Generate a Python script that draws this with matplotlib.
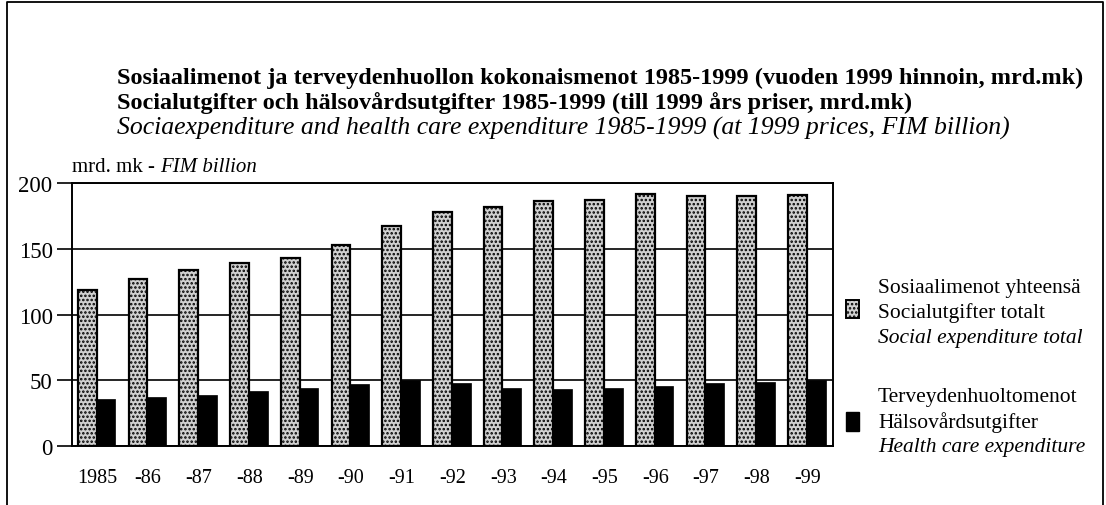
import matplotlib.pyplot as plt
from matplotlib.patches import Rectangle

# Values (FIM billion, 1999 prices)
years = ["1985", "-86", "-87", "-88", "-89", "-90", "-91", "-92", "-93", "-94", "-95", "-96", "-97", "-98", "-99"]
social_total = [119, 127, 134, 139, 143, 153, 167, 178, 182, 186, 187, 192, 190, 190, 191]
health_care = [36, 37, 39, 42, 44, 47, 50, 48, 44, 43, 44, 46, 48, 49, 50]
y_ticks = [0, 50, 100, 150, 200]

title_fi = "Sosiaalimenot ja terveydenhuollon kokonaismenot 1985-1999 (vuoden 1999 hinnoin, mrd.mk)"
title_sv = "Socialutgifter och hälsovårdsutgifter 1985-1999 (till 1999 års priser, mrd.mk)"
title_en = "Sociaexpenditure and health care expenditure 1985-1999 (at 1999 prices, FIM billion)"
legend_social = ["Sosiaalimenot yhteensä", "Socialutgifter totalt", "Social expenditure total"]
legend_health = ["Terveydenhuoltomenot", "Hälsovårdsutgifter", "Health care expenditure"]

plt.rcParams["font.family"] = ["Liberation Serif", "DejaVu Serif"]
plt.rcParams["hatch.color"] = "#444444"
plt.rcParams["hatch.linewidth"] = 1.2

W, H = 1106, 506
fig = plt.figure(figsize=(W / 100, H / 100), dpi=100)


def fx(px):
    return px / W


def fy(py):
    return 1 - py / H


# outer frame (bottom edge runs off the page)
fig.add_artist(plt.Line2D([fx(7), fx(7), fx(1103), fx(1103)], [0, fy(3), fy(3), 0],
                          color="black", lw=1.3, transform=fig.transFigure))

fig.text(fx(117), fy(78), title_fi, fontsize=17.5, fontweight="bold", va="center")
fig.text(fx(117), fy(103), title_sv, fontsize=17.5, fontweight="bold", va="center")
fig.text(fx(117), fy(128), title_en, fontsize=18.5, style="italic", va="center")

ax = fig.add_axes([fx(72), fy(447), fx(833) - fx(72), fy(184) - fy(447)])
x = list(range(len(years)))
bar_w = 0.37
ax.bar([i - 0.2 for i in x], social_total, width=bar_w, color="#d0d0d0", hatch="....",
       edgecolor="black", linewidth=1.6, zorder=3)
ax.bar([i + 0.17 for i in x], health_care, width=bar_w, color="black",
       edgecolor="black", linewidth=0.5, zorder=3)

ax.set_xlim(-0.5, len(years) - 0.5)
ax.set_ylim(0, 200)
ax.set_yticks(y_ticks)
ax.set_yticklabels([str(v) for v in y_ticks], fontsize=16.5)
ax.set_xticks(x)
ax.set_xticklabels(years, fontsize=14.5)
ax.tick_params(axis="x", length=0, pad=16)
ax.tick_params(axis="y", length=11, width=1.2, pad=3, direction="out")
for s in ax.spines.values():
    s.set_linewidth(1.4)
ax.yaxis.grid(True, color="black", linewidth=1.2, zorder=0)
ax.set_axisbelow(True)

unit_a = fig.text(fx(72), fy(168), "mrd. mk - ", fontsize=15, va="center")
fig.canvas.draw()
bb = unit_a.get_window_extent()
fig.text(bb.x1 / W, fy(168), "FIM billion", fontsize=15, style="italic", va="center")

# legend
fig.add_artist(Rectangle((fx(846), fy(319)), fx(13), fy(301) - fy(319), facecolor="#d0d0d0",
                         hatch="....", edgecolor="black", lw=1.4, transform=fig.transFigure))
fig.add_artist(Rectangle((fx(846), fy(432)), fx(13), fy(413) - fy(432), facecolor="black",
                         edgecolor="black", lw=1, transform=fig.transFigure))
for k, (row_s, row_h) in enumerate(zip(legend_social, legend_health)):
    st = "italic" if k == 2 else "normal"
    fig.text(fx(878), fy(288 + 25 * k), row_s, fontsize=15.5, style=st, va="center")
    fig.text(fx(878), fy(398 + 25 * k), row_h, fontsize=15.5, style=st, va="center")

fig.savefig("out.png", dpi=100)
